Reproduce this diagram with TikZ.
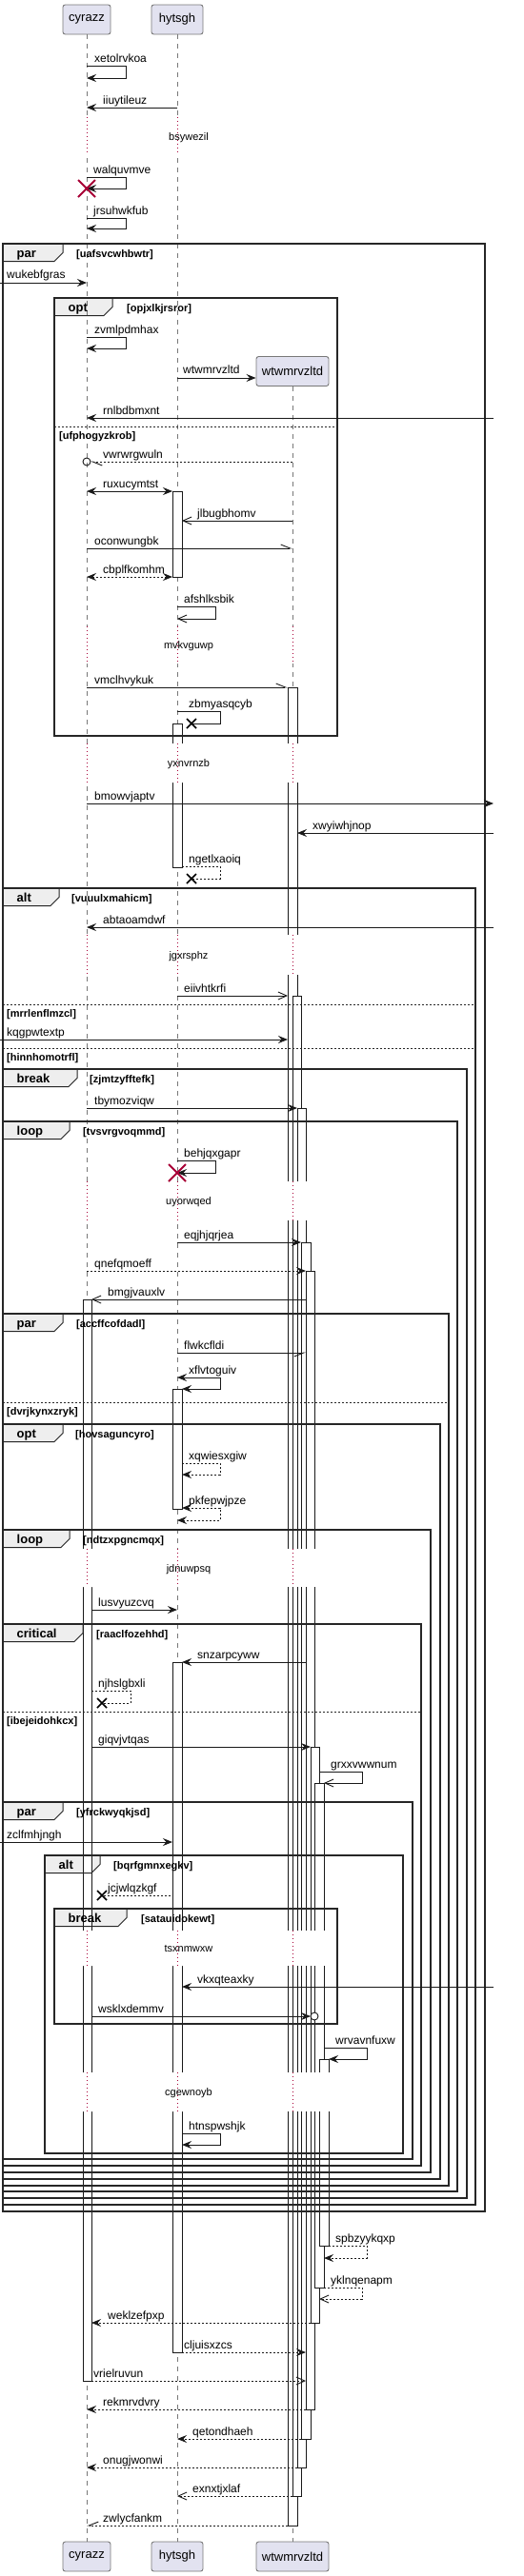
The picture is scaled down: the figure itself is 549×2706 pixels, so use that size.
\documentclass[tikz,border=0pt]{standalone}
\usepackage{fontspec}
\setmainfont{Liberation Sans}
\usetikzlibrary{arrows.meta}

\definecolor{partfill}{RGB}{226,226,240}
\definecolor{partline}{RGB}{120,120,120}
\definecolor{delaycol}{RGB}{168,0,54}
\definecolor{tabfill}{RGB}{238,238,238}

\pgfdeclarelayer{bg}
\pgfsetlayers{bg,main}

\newcommand{\lbl}[3]{\node[lbl] (lb-#3) at (#1,#2) {#3};}
\newcommand{\actb}[4]{\draw[act] (#1,#2) rectangle (#3,#4);}
% group frame: keyword, condition, left, top, right, bottom, tab right, condition x
\newcommand{\grp}[8]{%
  \draw[frm] (#3,#4) rectangle (#5,#6);
  \begin{pgfonlayer}{bg}
    \fill[tabfill] (#3,#4) -- (#7,#4) -- (#7,#4+9.5) -- (#7-9,#4+18.5) -- (#3,#4+18.5) -- cycle;
  \end{pgfonlayer}
  \draw[tabst] (#3,#4) -- (#7,#4) -- (#7,#4+9.5) -- (#7-9,#4+18.5) -- (#3,#4+18.5);
  \node[kw] (kw-#2) at (#3+14.5,#4+14) {#1};
  \node[cnd] (cd-#2) at (#8,#4+14) {[#2]};}
% else divider: left, y, right, text x, condition
\newcommand{\grpelse}[5]{%
  \draw[elsel] (#1,#2) -- (#3,#2);
  \node[cnd] (cd-#5) at (#4,#2+13) {[#5]};}
\newcommand{\killx}[2]{\draw[killst] (#1-9,#2-9) -- (#1+9,#2+9) (#1-9,#2+9) -- (#1+9,#2-9);}
\newcommand{\lostx}[2]{\draw[lostst] (#1-5,#2-5) -- (#1+5,#2+5) (#1-5,#2+5) -- (#1+5,#2-5);}

\begin{document}
\begin{tikzpicture}[x=1pt, y=-1pt,
    part/.style={draw=partline, fill=partfill, rounded corners=2.5pt, minimum height=31pt, inner sep=0pt, line width=0.9pt, font=\fontsize{13}{15}\selectfont},
    lifeline/.style={draw=partline, line width=0.8pt, dash pattern=on 5pt off 5pt},
    delayline/.style={draw=delaycol, line width=0.9pt, dash pattern=on 1pt off 3pt},
    act/.style={draw=black!90, fill=white, line width=0.9pt},
    frm/.style={draw=black!85, line width=1.5pt},
    tabst/.style={draw=black!85, line width=1pt},
    elsel/.style={draw=black!85, line width=0.8pt, dash pattern=on 2pt off 2pt},
    kw/.style={font=\bfseries\fontsize{13}{15}\selectfont, anchor=base west, inner sep=0pt},
    cnd/.style={font=\bfseries\fontsize{11}{13}\selectfont, anchor=base west, inner sep=0pt},
    lbl/.style={font=\fontsize{12}{14}\selectfont, anchor=base west, inner sep=0pt},
    dly/.style={font=\fontsize{11}{13}\selectfont, anchor=base, inner sep=0pt},
    msg/.style={draw=black!90, line width=0.9pt},
    ret/.style={msg, dash pattern=on 2pt off 2pt},
    >={Stealth[length=10pt, width=8pt, inset=3.5pt]},
    oa/.style={-{Straight Barb[length=9pt, width=8pt]}},
    hl/.style={-{Straight Barb[length=10pt, width=8pt, left]}},
    hr/.style={-{Straight Barb[length=10pt, width=8pt, right]}},
    killst/.style={draw=delaycol, line width=1.8pt},
    lostst/.style={draw=black, line width=1.5pt}]
  \useasboundingbox (0,0) rectangle (549,2706);

  % Participants
  \node[part, minimum width=50pt] (cyrazzTop) at (91,20.5) {cyrazz};
  \node[part, minimum width=54pt] (hytsghTop) at (186,20.5) {hytsgh};
  \node[part, minimum width=76pt] (wtwmrvzltdNew) at (307,390) {wtwmrvzltd};
  \node[part, minimum width=50pt] (cyrazzBot) at (91,2685.5) {cyrazz};
  \node[part, minimum width=54pt] (hytsghBot) at (186,2685.5) {hytsgh};
  \node[part, minimum width=76pt] (wtwmrvzltdBot) at (307,2685.5) {wtwmrvzltd};

  % Lifelines
  \draw[lifeline] (cyrazzTop) -- (cyrazzBot);
  \draw[lifeline] (hytsghTop) -- (hytsghBot);
  \draw[lifeline] (wtwmrvzltdNew) -- (wtwmrvzltdBot);

  % Activations
  \actb{181}{516}{191}{606}
  \actb{181}{760}{191}{911}
  \actb{181}{1459}{191}{1585}
  \actb{181}{1746}{191}{2471}
  \actb{87}{1365}{96}{2501}
  \actb{302}{722}{312}{2653}
  \actb{307}{1046}{316}{2622}
  \actb{312}{1164}{321}{2592}
  \actb{316}{1305}{326}{2562}
  \actb{321}{1335}{330}{2531}
  \actb{326}{1835}{335}{2440}
  \actb{330}{1873}{340}{2403}
  \actb{335}{2163}{345}{2359}

  % Delays
  \foreach \ya/\yb/\txt in {123/163/bsywezil, 658/697/mvkvguwp, 781/822/yxnvrnzb,
      982/1024/jgxrsphz, 1241/1282/uyorwqed, 1627/1667/jdnuwpsq,
      2028/2065/tsxnmwxw, 2177/2218/cgewnoyb}{
    \fill[white] (80,\ya) rectangle (101,\yb) (175,\ya) rectangle (197,\yb);
    \draw[delayline] (91,\ya) -- (91,\yb) (186,\ya) -- (186,\yb);
    \ifnum\ya>405
      \fill[white] (296,\ya) rectangle (350,\yb);
      \draw[delayline] (307,\ya) -- (307,\yb);
    \fi
    \pgfmathsetmacro{\ym}{(\ya+\yb)/2+4}
    \node[dly] (dl-\txt) at (198,\ym) {\txt};
  }

  % Groups
  \grp{par}{uafsvcwhbwtr}{3}{256}{509}{2323}{66}{80}
  \grp{opt}{opjxlkjrsror}{57}{313}{354}{773}{118}{133}
  \grpelse{57}{448}{354}{62}{ufphogyzkrob}
  \grp{alt}{vuuulxmahicm}{3}{933}{499}{2316}{62}{75}
  \grpelse{3}{1055}{499}{7}{mrrlenflmzcl}
  \grpelse{3}{1101}{499}{7}{hinnhomotrfl}
  \grp{break}{zjmtzyfftefk}{3}{1123}{490}{2309}{81}{94}
  \grp{loop}{tvsvrgvoqmmd}{3}{1178}{480}{2302}{73}{87}
  \grp{par}{accffcofdadl}{3}{1380}{471}{2296}{66}{80}
  \grpelse{3}{1473}{471}{7}{dvrjkynxzryk}
  \grp{opt}{hovsaguncyro}{3}{1496}{462}{2289}{66}{79}
  \grp{loop}{ndtzxpgncmqx}{3}{1607}{452}{2282}{73}{87}
  \grp{critical}{raaclfozehhd}{3}{1706}{442}{2275}{87}{101}
  \grpelse{3}{1798}{442}{7}{ibejeidohkcx}
  \grp{par}{yfrckwyqkjsd}{3}{1893}{433}{2268}{66}{80}
  \grp{alt}{bqrfgmnxegkv}{47}{1949}{423}{2262}{105}{119}
  \grp{break}{satauidokewt}{57}{2005}{354}{2126}{133}{148}

  % Messages
  \draw[msg, ->] (91,69) -- (132,69) -- (132,82) -- (91,82);
  \lbl{99}{65}{xetolrvkoa}
  \draw[msg, ->] (186,113) -- (91,113);
  \lbl{108}{109}{iiuytileuz}
  \draw[msg, ->] (91,186) -- (132,186) -- (132,198) -- (91,198);
  \lbl{98}{182}{walquvmve}
  \killx{91}{198}
  \draw[msg, ->] (91,229) -- (132,229) -- (132,240) -- (91,240);
  \lbl{98}{225}{jrsuhwkfub}
  \draw[msg, ->] (0,297) -- (91,297);
  \lbl{7}{292}{wukebfgras}
  \draw[msg, ->] (91,354) -- (132,354) -- (132,366) -- (91,366);
  \lbl{99}{350}{zvmlpdmhax}
  \draw[msg, ->] (186,397) -- ([yshift=-7pt]wtwmrvzltdNew.west);
  \lbl{192}{392}{wtwmrvzltd}
  \draw[msg, ->] (518,439) -- (91,439);
  \lbl{108}{435}{rnlbdbmxnt}
  \draw[ret, hl] (307,485) -- (95,485);
  \draw[msg] (91,485) circle (4);
  \lbl{108}{481}{vwrwrgwuln}
  \draw[msg, <->] (91,516) -- (181,516);
  \lbl{108}{512}{ruxucymtst}
  \draw[msg, oa] (307,547) -- (191,547);
  \lbl{207}{543}{jlbugbhomv}
  \draw[msg, hl] (91,576) -- (307,576);
  \lbl{99}{572}{oconwungbk}
  \draw[ret, <->] (91,606) -- (181,606);
  \lbl{108}{602}{cbplfkomhm}
  \draw[msg, oa] (186,637) -- (226,637) -- (226,650) -- (186,650);
  \lbl{193}{633}{afshlksbik}
  \draw[msg, hl] (91,722) -- (302,722);
  \lbl{99}{718}{vmclhvykuk}
  \draw[msg] (186,747) -- (231,747) -- (231,760) -- (201,760);
  \lbl{198}{743}{zbmyasqcyb}
  \lostx{201}{760}
  \draw[msg, ->] (91,844) -- (518,844);
  \lbl{99}{840}{bmowvjaptv}
  \draw[msg, ->] (518,875) -- (312,875);
  \lbl{328}{871}{xwyiwhjnop}
  \draw[ret] (191,910) -- (231,910) -- (231,923) -- (201,923);
  \lbl{198}{906}{ngetlxaoiq}
  \lostx{201}{923}
  \draw[msg, ->] (518,974) -- (91,974);
  \lbl{108}{970}{abtaoamdwf}
  \draw[msg, oa] (186,1046) -- (302,1046);
  \lbl{193}{1042}{eiivhtkrfi}
  \draw[msg, ->] (0,1092) -- (302,1092);
  \lbl{7}{1088}{kqgpwtextp}
  \draw[msg, ->] (91,1164) -- (312,1164);
  \lbl{99}{1160}{tbymozviqw}
  \draw[msg, ->] (186,1219) -- (226,1219) -- (226,1232) -- (186,1232);
  \lbl{193}{1215}{behjqxgapr}
  \killx{186}{1232}
  \draw[msg, ->] (186,1305) -- (316,1305);
  \lbl{193}{1301}{eqjhjqrjea}
  \draw[ret, ->] (91,1335) -- (321,1335);
  \lbl{99}{1331}{qnefqmoeff}
  \draw[msg, oa] (321,1365) -- (96,1365);
  \lbl{113}{1361}{bmgjvauxlv}
  \draw[msg, hr] (186,1421) -- (321,1421);
  \lbl{193}{1417}{flwkcfldi}
  \draw[msg, <->] (186,1447) -- (231,1447) -- (231,1459) -- (191,1459);
  \lbl{198}{1443}{xflvtoguiv}
  \draw[ret, ->] (191,1537) -- (231,1537) -- (231,1549) -- (191,1549);
  \lbl{198}{1533}{xqwiesxgiw}
  \draw[ret, <->] (191,1584) -- (231,1584) -- (231,1597) -- (186,1597);
  \lbl{198}{1580}{pkfepwjpze}
  \draw[msg, ->] (96,1691) -- (186,1691);
  \lbl{103}{1687}{lusvyuzcvq}
  \draw[msg, ->] (321,1746) -- (191,1746);
  \lbl{207}{1742}{snzarpcyww}
  \draw[ret] (96,1776) -- (137,1776) -- (137,1789) -- (107,1789);
  \lbl{103}{1772}{njhslgbxli}
  \lostx{107}{1789}
  \draw[msg, ->] (96,1835) -- (326,1835);
  \lbl{103}{1831}{giqvjvtqas}
  \draw[msg, oa] (335,1861) -- (380,1861) -- (380,1873) -- (340,1873);
  \lbl{347}{1857}{grxxvwwnum}
  \draw[msg, ->] (0,1935) -- (181,1935);
  \lbl{7}{1931}{zclfmhjngh}
  \draw[ret] (179,1991) -- (107,1991);
  \lbl{113}{1987}{jcjwlqzkgf}
  \lostx{107}{1991}
  \draw[msg, ->] (518,2087) -- (191,2087);
  \lbl{207}{2083}{vkxqteaxky}
  \draw[msg, ->] (96,2118) -- (326,2118);
  \draw[msg, fill=white] (330,2118) circle (4);
  \lbl{103}{2114}{wsklxdemmv}
  \draw[msg, ->] (340,2151) -- (385,2151) -- (385,2163) -- (345,2163);
  \lbl{352}{2147}{wrvavnfuxw}
  \draw[msg, ->] (191,2241) -- (231,2241) -- (231,2253) -- (191,2253);
  \lbl{198}{2237}{htnspwshjk}
  \draw[ret, ->] (345,2359) -- (385,2359) -- (385,2372) -- (340,2372);
  \lbl{352}{2355}{spbzyykqxp}
  \draw[ret, oa] (340,2403) -- (380,2403) -- (380,2415) -- (335,2415);
  \lbl{347}{2399}{yklnqenapm}
  \draw[ret, ->] (326,2440) -- (96,2440);
  \lbl{113}{2436}{weklzefpxp}
  \draw[ret, ->] (191,2471) -- (321,2471);
  \lbl{193}{2467}{cljuisxzcs}
  \draw[ret, oa] (96,2501) -- (321,2501);
  \lbl{98}{2497}{vrielruvun}
  \draw[ret, ->] (321,2531) -- (91,2531);
  \lbl{108}{2527}{rekmrvdvry}
  \draw[ret, ->] (316,2562) -- (186,2562);
  \lbl{202}{2558}{qetondhaeh}
  \draw[ret, ->] (312,2592) -- (91,2592);
  \lbl{108}{2588}{onugjwonwi}
  \draw[ret, oa] (307,2622) -- (186,2622);
  \lbl{202}{2618}{exnxtjxlaf}
  \draw[ret, hr] (302,2653) -- (91,2653);
  \lbl{108}{2649}{zwlycfankm}
\end{tikzpicture}
\end{document}
